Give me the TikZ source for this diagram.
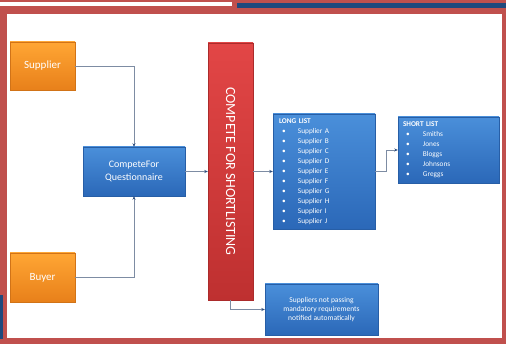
\documentclass[tikz,border=0pt]{standalone}
\usepackage{fontspec}
\setmainfont{Carlito}
\usetikzlibrary{arrows.meta,shadows}

\definecolor{framered}{HTML}{C0504D}
\definecolor{frameblue}{HTML}{1F497D}
\definecolor{linkgrey}{HTML}{7D8CA3}
\definecolor{tipblue}{HTML}{2F4F7F}
\definecolor{orangetop}{HTML}{FFA634}
\definecolor{orangebot}{HTML}{E8801A}
\definecolor{bluetop}{HTML}{4A8FDA}
\definecolor{bluebot}{HTML}{2B68B8}
\definecolor{redtop}{HTML}{E24646}
\definecolor{redbot}{HTML}{BE3030}

% one row of a bullet list
\newcommand{\listrow}[2][19pt]{\makebox[#1][l]{\hspace{3pt}\textbullet}#2}

\tikzset{
  box/.style={draw, inner sep=0pt, text=white,
    drop shadow={opacity=0.3, shadow xshift=1pt, shadow yshift=-1.5pt}},
  orangebox/.style={box, draw=orangebot!90!black, top color=orangetop, bottom color=orangebot,
    font=\fontsize{11}{13}\selectfont},
  bluebox/.style={box, draw=bluebot!90!black, top color=bluetop, bottom color=bluebot},
  redbar/.style={box, draw=redbot!90!black, top color=redtop, bottom color=redbot},
  link/.style={draw=linkgrey, line width=0.6pt, -{Stealth[length=3.5pt,width=3pt,color=tipblue]}}
}

\begin{document}
\begin{tikzpicture}[x=1pt,y=-1pt]
  \useasboundingbox (0,0) rectangle (506,344);
  % frame
  \fill[framered] (0,0) rectangle (506,344);
  \fill[white] (0,2) rectangle (232,6);
  \fill[frameblue] (237,3) rectangle (506,8);
  \fill[frameblue] (0,295) rectangle (2.5,339);
  \fill[white] (7,14) rectangle (502,338);

  % boxes
  \node[orangebox, minimum width=65pt, minimum height=48pt] (supplier) at (42.5,66) {Supplier};
  \node[orangebox, minimum width=65pt, minimum height=49pt] (buyer) at (42.5,277.5) {Buyer};
  \node[bluebox, minimum width=102pt, minimum height=49pt, align=center,
    font=\fontsize{10}{13}\selectfont] (quest) at (134,171.5) {CompeteFor\\Questionnaire};
  \node[redbar, minimum width=45pt, minimum height=257pt,
    font=\fontsize{14}{16}\selectfont] (compete) at (230.5,171.5) {\rotatebox{-90}{COMPETE FOR SHORTLISTING}};
  \node[bluebox, minimum width=102pt, minimum height=115pt, text width=90pt, inner xsep=6pt, align=left,
    font=\fontsize{7.3}{10}\selectfont] (longlist) at (324,171.5)
    {\textbf{LONG LIST}\\ \listrow{Supplier A}\\ \listrow{Supplier B}\\ \listrow{Supplier C}\\
     \listrow{Supplier D}\\ \listrow{Supplier E}\\ \listrow{Supplier F}\\ \listrow{Supplier G}\\
     \listrow{Supplier H}\\ \listrow{Supplier I}\\ \listrow{Supplier J}};
  \node[bluebox, minimum width=101pt, minimum height=66pt, text width=91pt, inner xsep=5pt, align=left,
    font=\fontsize{7.3}{10}\selectfont] (shortlist) at (448.5,150)
    {\textbf{SHORT LIST}\\ \listrow[20pt]{Smiths}\\ \listrow[20pt]{Jones}\\ \listrow[20pt]{Bloggs}\\
     \listrow[20pt]{Johnsons}\\ \listrow[20pt]{Greggs}};
  \node[bluebox, minimum width=113pt, minimum height=51pt, align=center,
    font=\fontsize{7.5}{9}\selectfont] (notpassed) at (321.5,309.5)
    {Suppliers not passing\\mandatory requirements\\notified automatically};

  % connectors
  \draw[link] (supplier.east) -| (quest.north);
  \draw[link] (buyer.east) -| (quest.south);
  \draw[link] (quest.east) -- (compete.west);
  \draw[link] (compete.east) -- (longlist.west);
  \draw[link] (longlist.east) -- ++(11,0) |- (shortlist.west);
  \draw[link] (compete.south) |- (notpassed.west);
\end{tikzpicture}
\end{document}
